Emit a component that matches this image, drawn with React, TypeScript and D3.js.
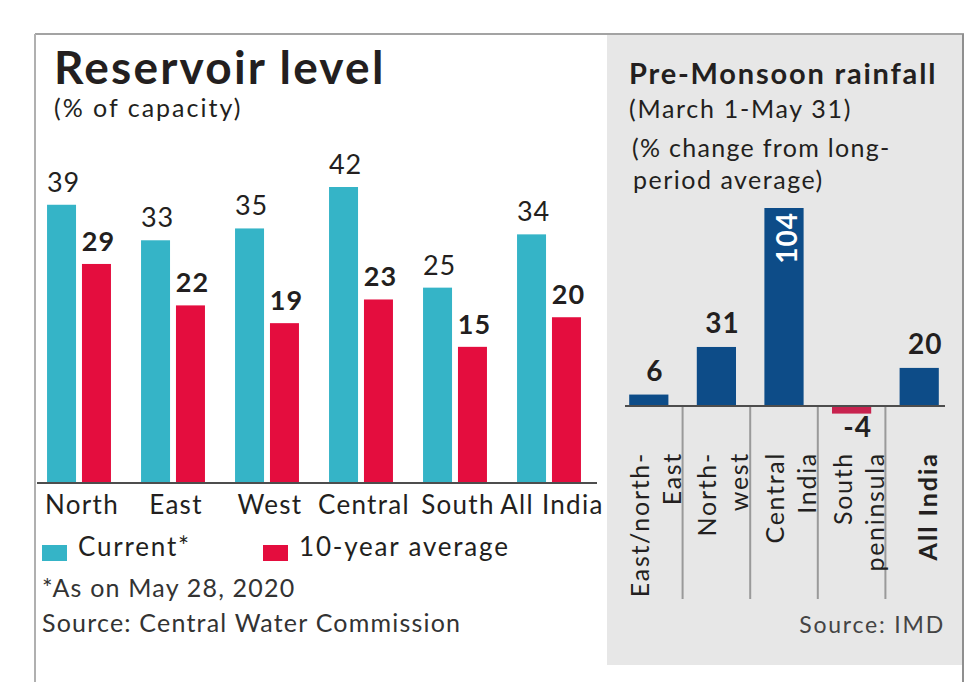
import React from 'react';
import * as d3 from 'd3';

// reservoir panel
const regions = ['North', 'East', 'West', 'Central', 'South', 'All India'];
const currentLevel = [39, 33, 35, 42, 25, 34];
const tenYearAvg = [29, 22, 19, 23, 15, 20];
const seriesKeys = ['current', 'avg'];
const legendLabels = ['Current*', '10-year average'];

// rainfall panel
const rainRegions = ['East/north-East', 'North-west', 'Central India', 'South peninsula', 'All India'];
const rainLabelLines = [['East/north-', 'East'], ['North-', 'west'], ['Central', 'India'], ['South', 'peninsula'], ['All India']];
const rainChange = [6, 31, 104, -4, 20];

const W = 977;
const H = 682;
const FONT = 'Lato, "Noto Sans", sans-serif';
const CYAN = '#35b4c7';
const RED = '#e40d3e';
const BLUE = '#0d4c88';
const NEG = '#c8234f';
const INK = '#231f20';

export default function App() {
    // left chart scales (the original art starts bars a little below zero)
    const levelFloor = -8;
    const baseL = 483;
    const x0 = d3.scaleBand().domain(regions).range([32, 596]).paddingInner(0.32).paddingOuter(0.16);
    const x1 = d3.scaleBand().domain(seriesKeys).range([0, x0.bandwidth()]).paddingInner(0.17);
    const yL = d3.scaleLinear().domain([levelFloor, 42]).range([baseL, 187]);
    const color = d3.scaleOrdinal<string, string>().domain(seriesKeys).range([CYAN, RED]);

    const groups = regions.map((r, i) => ({ region: r, values: [{ key: 'current', value: currentLevel[i] }, { key: 'avg', value: tenYearAvg[i] }] }));

    // right chart scales
    const xr = d3.scaleBand().domain(rainRegions).range([615, 953]).paddingInner(0.42).paddingOuter(0.21);
    const yr = d3.scaleLinear().domain([-4, 104]).range([413.6, 208]);
    const zeroY = yr(0);
    const rainData = rainRegions.map((r, i) => ({ region: r, value: rainChange[i], lines: rainLabelLines[i] }));

    return (
        <svg width={W} height={H} style={{ position: 'absolute', left: 0, top: 0, background: '#fff' }} fontFamily={FONT}>
            {/* right grey panel */}
            <rect x={607} y={34} width={356} height={631} fill="#e7e7e7" />
            {/* frame */}
            <line x1={35} x2={964} y1={34} y2={34} stroke="#a3a3a3" strokeWidth={2} />
            <line x1={35} x2={35} y1={34} y2={H} stroke="#b0b0b0" strokeWidth={2} />
            <line x1={963} x2={963} y1={34} y2={H} stroke="#8f8f8f" strokeWidth={2} />

            {/* left titles */}
            <text x={54} y={84} fontSize={46} fontWeight={700} letterSpacing={2.2} fill={INK}>Reservoir level</text>
            <text x={54} y={117} fontSize={25} letterSpacing={2} fill={INK}>(% of capacity)</text>

            {/* left bars */}
            {groups.map(g => (
                <g key={g.region} transform={`translate(${x0(g.region)},0)`}>
                    {g.values.map(d => (
                        <g key={d.key}>
                            <rect x={x1(d.key)} y={yL(d.value)} width={x1.bandwidth()} height={baseL - yL(d.value)} fill={color(d.key)} />
                            <text x={(x1(d.key) as number) + x1.bandwidth() / 2 + 2} y={yL(d.value) - 13} textAnchor="middle" fontSize={27}
                                fontWeight={d.key === 'avg' ? 700 : 400} letterSpacing={1} fill={INK}>{d.value}</text>
                        </g>
                    ))}
                </g>
            ))}
            <line x1={37} x2={597} y1={baseL} y2={baseL} stroke="#4d4d4d" strokeWidth={2} />
            {regions.map(r => (
                <text key={r} x={(x0(r) as number) + x0.bandwidth() / 2 + 3} y={514} textAnchor="middle" fontSize={26}
                    letterSpacing={1.3} fill={INK}>{r}</text>
            ))}

            {/* legend */}
            {legendLabels.map((l, i) => {
                const lx = i === 0 ? 42 : 263;
                return (
                    <g key={l}>
                        <rect x={lx} y={545} width={25} height={16} fill={color(seriesKeys[i])} />
                        <text x={lx + 36} y={556} fontSize={26} letterSpacing={1.8} fill={INK}>{l}</text>
                    </g>
                );
            })}
            <text x={42} y={597} fontSize={25} letterSpacing={1.2} fill="#333">*As on May 28, 2020</text>
            <text x={42} y={632} fontSize={25} letterSpacing={1.2} fill="#333">Source: Central Water Commission</text>

            {/* right titles */}
            <text x={629} y={84} fontSize={29} fontWeight={700} letterSpacing={1.8} fill={INK}>Pre-Monsoon rainfall</text>
            <text x={629} y={118} fontSize={25} letterSpacing={1.7} fill={INK}>(March 1-May 31)</text>
            <text x={632} y={157} fontSize={25} letterSpacing={1.3} fill={INK}>(% change from long-</text>
            <text x={633} y={189} fontSize={25} letterSpacing={1.5} fill={INK}>period average)</text>

            {/* separators between rainfall categories */}
            {rainRegions.slice(1).map(r => {
                const sx = (xr(r) as number) - (xr.step() * xr.paddingInner()) / 2;
                return <line key={r} x1={sx} x2={sx} y1={zeroY} y2={599} stroke="#9a9a9a" strokeWidth={2} />;
            })}

            {/* rainfall bars */}
            {rainData.map(d => {
                const bx = xr(d.region) as number;
                const cx = bx + xr.bandwidth() / 2;
                const top = Math.min(yr(d.value), zeroY);
                const h = Math.abs(yr(d.value) - zeroY);
                const inside = d.value > 80;
                return (
                    <g key={d.region}>
                        <rect x={bx} y={top} width={xr.bandwidth()} height={h} fill={d.value < 0 ? NEG : BLUE} />
                        {inside ? (
                            <text transform={`translate(${cx + 13},${top + 4}) rotate(-90)`} textAnchor="end" fontSize={28} fontWeight={700}
                                letterSpacing={1} fill="#fff">{d.value}</text>
                        ) : (
                            <text x={cx + 6} y={d.value < 0 ? zeroY + 31 : top - 14} textAnchor="middle" fontSize={28} fontWeight={700}
                                letterSpacing={1} fill={INK}>{d.value}</text>
                        )}
                        {d.lines.map((ln, j) => {
                            const off = d.lines.length === 1 ? 18 : (j === 0 ? 0 : 32);
                            return (
                                <text key={ln} transform={`translate(${cx + off},452) rotate(-90)`} textAnchor="end" fontSize={25}
                                    fontWeight={d.region === 'All India' ? 700 : 400} letterSpacing={d.region === 'All India' ? 2 : 1.7}
                                    fill={INK}>{ln}</text>
                            );
                        })}
                    </g>
                );
            })}
            <line x1={625} x2={945} y1={zeroY} y2={zeroY} stroke="#4d4d4d" strokeWidth={2} />

            <text x={945} y={633} textAnchor="end" fontSize={23} letterSpacing={1.8} fill="#444">Source: IMD</text>
        </svg>
    );
}
